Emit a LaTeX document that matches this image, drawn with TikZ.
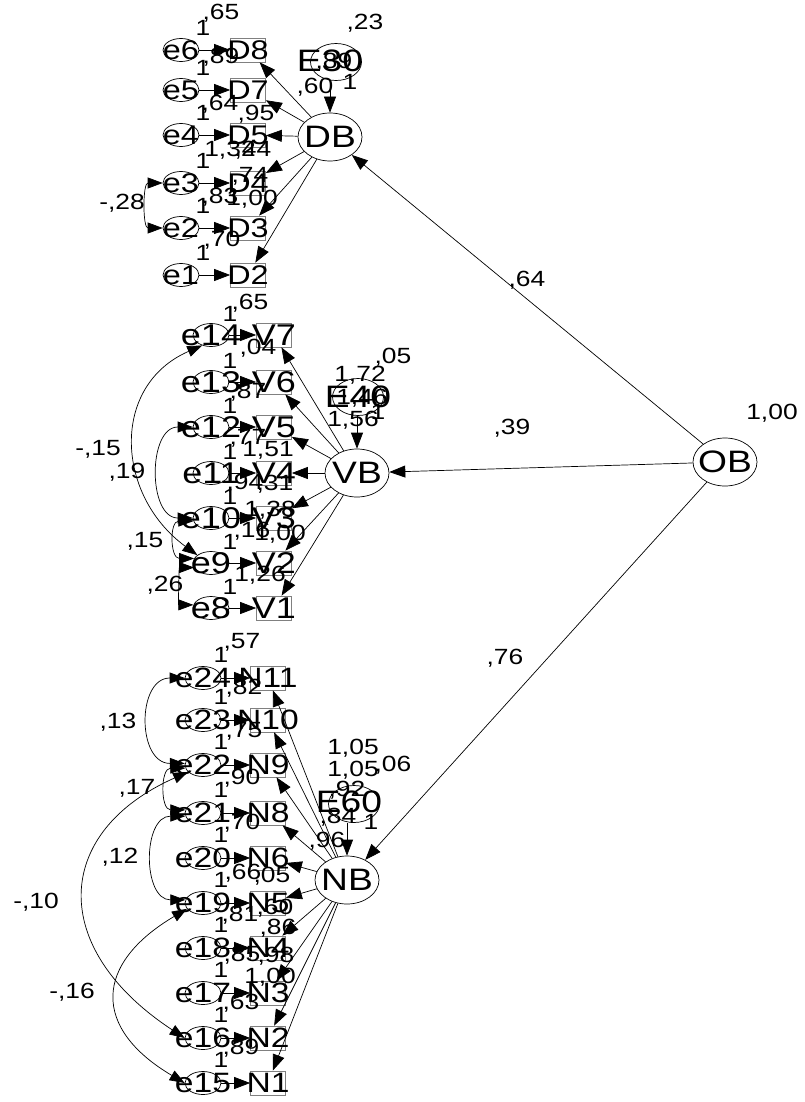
\documentclass[tikz,border=0pt]{standalone}
\usepackage{fontspec}
\newfontfamily\amosfont[FakeStretch=1.2]{Liberation Sans}
\usetikzlibrary{arrows.meta,shapes.geometric}

\tikzset{
 varlbl/.style={font=\amosfont\fontsize{27}{27}\selectfont,inner sep=0pt},
 latlbl/.style={font=\amosfont\fontsize{31}{31}\selectfont,inner sep=0pt},
 coef/.style={font=\amosfont\fontsize{22}{22}\selectfont,inner sep=0pt},
 obsbox/.style={draw=gray,line width=0.7pt,minimum width=35pt,minimum height=24pt,inner sep=0pt,label={[varlbl]center:#1}},
 errell/.style={ellipse,draw,line width=0.7pt,minimum width=36pt,minimum height=23pt,inner sep=0pt,label={[varlbl]center:#1}},
 latell/.style={ellipse,draw,line width=0.7pt,minimum width=64pt,minimum height=48pt,inner sep=0pt,label={[latlbl]center:#1}},
 distell/.style={ellipse,draw,line width=0.7pt,minimum width=51pt,minimum height=37pt,inner sep=0pt},
 reg/.style={-{Triangle[length=16pt,width=12pt]},line width=0.7pt},
 covar/.style={{Triangle[length=15pt,width=11pt]}-{Triangle[length=15pt,width=11pt]},line width=0.7pt}
}

\begin{document}
\begin{tikzpicture}[x=1pt,y=-1pt]
\useasboundingbox (0,0) rectangle (805,1102);

% DB block
\foreach \en/\vn/\y in {e6/D8/50,e5/D7/90,e4/D5/135,e3/D4/183,e2/D3/228,e1/D2/275}{
  \node[errell=\en] (\en) at (181,\y) {};
  \node[obsbox=\vn] (\vn) at (248,\y) {};
  \draw[reg] (\en) -- (\vn);
  \node[coef] (one\en) at (203,\y-22) {1};
}
\node[latell=DB] (DB) at (330,137) {};
\node[distell] (E30) at (336,62) {};
\foreach \vn in {D8,D7,D5,D4,D3,D2} \draw[reg] (DB) -- (\vn);
\draw[reg] (E30.south -| DB.north) -- (DB.north);
\draw[covar] (e3.west) .. controls +(-20,0) and +(-20,0) .. (e2.west);
\node[latlbl] (tE30) at (330,61) {E30};
\node[coef] (vDB) at (334,62) {,89};
\node[coef] (vE30) at (365,23) {,23};
\node[coef] (rDB) at (315,87) {,60};
\node[coef] (wE30) at (350,82) {1};
\node[coef] (ve6) at (221,13) {,65};
\node[coef] (ve5) at (221,57) {,89};
\node[coef] (ve4) at (220,104) {,64};
\node[coef] (rD7) at (256,114) {,95};
\node[coef] (ve3) at (230,150) {1,32};
\node[coef] (rD5) at (253,150) {,44};
\node[coef] (rD4) at (250,176) {,74};
\node[coef] (ve2) at (220,197) {,83};
\node[coef] (rD3) at (252,199) {1,00};
\node[coef] (ve1) at (222,240) {,70};
\node[coef] (c32) at (122,203) {-,28};

% VB block
\begin{scope}[varlbl/.append style={font=\amosfont\fontsize{30}{30}\selectfont}]
\foreach \en/\vn/\y in {e14/V7/335,e13/V6/382,e12/V5/427,e11/V4/473,e10/V3/518,e9/V2/563,e8/V1/608}{
  \node[errell=\en] (\en) at (211,\y) {};
  \node[obsbox=\vn] (\vn) at (274,\y) {};
  \draw[reg] (\en) -- (\vn);
  \node[coef] (one\en) at (230,\y-21) {1};
}
\end{scope}
\node[latell=VB] (VB) at (357,473) {};
\node[distell] (E40) at (358,397) {};
\foreach \vn in {V7,V6,V5,V4,V3,V2,V1} \draw[reg] (VB) -- (\vn);
\draw[reg] (E40.south -| VB.north) -- (VB.north);
\draw[covar] (e14.230) .. controls +(-92,40) and +(-82,-60) .. (e9.150);
\draw[covar] (e12.west) .. controls +(-45,0) and +(-45,0) .. (e10.west);
\draw[covar] (e10.190) .. controls +(-24,0) and +(-24,0) .. (e9.165);
\draw[covar] (e9.195) .. controls +(-15,0) and +(-15,0) .. (e8.170);
\node[latlbl] (tE40) at (358,397) {E40};
\node[coef] (vVB) at (362,398) {1,46};
\node[coef] (vE40) at (393,357) {,05};
\node[coef] (iVB) at (360,375) {1,72};
\node[coef] (rVB) at (353,420) {1,56};
\node[coef] (wE40) at (378,412) {1};
\node[coef] (ve14) at (250,303) {,65};
\node[coef] (ve13) at (258,348) {,04};
\node[coef] (ve12) at (248,392) {,87};
\node[coef] (ve11) at (248,438) {,77};
\node[coef] (rV5) at (268,450) {1,51};
\node[coef] (ve10) at (245,483) {,94};
\node[coef] (rV4) at (275,484) {,31};
\node[coef] (rV3) at (270,510) {1,38};
\node[coef] (ve9) at (252,531) {,16};
\node[coef] (rV2) at (280,534) {1,00};
\node[coef] (ve8) at (260,575) {1,26};
\node[coef] (c149) at (98,449) {-,15};
\node[coef] (c1210) at (127,472) {,19};
\node[coef] (c109) at (145,541) {,15};
\node[coef] (c98) at (165,585) {,26};

% NB block
\begin{scope}[varlbl/.append style={font=\amosfont\fontsize{28}{28}\selectfont}]
\foreach \en/\vn/\y in {e24/N11/678,e23/N10/720,e22/N9/765,e21/N8/813,e20/N6/858,e19/N5/903,e18/N4/948,e17/N3/993,e16/N2/1038,e15/N1/1083}{
  \node[errell=\en] (\en) at (203,\y) {};
  \node[obsbox=\vn] (\vn) at (268,\y) {};
  \draw[reg] (\en) -- (\vn);
  \node[coef] (one\en) at (221,\y-23) {1};
}
\end{scope}
\node[latell=NB,latlbl/.append style={font=\amosfont\fontsize{34}{34}\selectfont}] (NB) at (347,880) {};
\node[distell] (E60) at (354,804) {};
\foreach \vn in {N11,N10,N9,N8,N6,N5,N4,N3,N2,N1} \draw[reg] (NB) -- (\vn);
\draw[reg] (E60.south -| NB.north) -- (NB.north);
\draw[covar] (e24.west) .. controls +(-48,0) and +(-48,0) .. (e22.175);
\draw[covar] (e22.190) .. controls +(-25,0) and +(-25,0) .. (e21.170);
\draw[covar] (e21.190) .. controls +(-43,0) and +(-43,0) .. (e19.170);
\draw[covar] (e22.205) .. controls +(-135,60) and +(-137,-90) .. (e16.west);
\draw[covar] (e19.200) .. controls +(-93,55) and +(-93,-55) .. (e15.west);
\node[latlbl] (tE60) at (349,802) {E60};
\node[coef] (iN11) at (353,748) {1,05};
\node[coef] (iN10) at (353,770) {1,05};
\node[coef] (vE60) at (393,765) {,06};
\node[coef] (vNB) at (347,790) {,92};
\node[coef] (rNB) at (338,817) {,84};
\node[coef] (wE60) at (371,822) {1};
\node[coef] (rN8) at (327,841) {,96};
\node[coef] (ve24) at (242,642) {,57};
\node[coef] (ve23) at (244,688) {,82};
\node[coef] (ve22) at (244,731) {,75};
\node[coef] (ve21) at (242,778) {,90};
\node[coef] (ve20) at (242,823) {,70};
\node[coef] (ve19) at (243,873) {,66};
\node[coef] (rN6) at (272,876) {,05};
\node[coef] (rN5) at (275,908) {,60};
\node[coef] (ve18) at (240,915) {,81};
\node[coef] (rN4) at (278,928) {,86};
\node[coef] (ve17) at (242,955) {,85};
\node[coef] (rN3) at (276,956) {,98};
\node[coef] (iN3) at (270,977) {1,00};
\node[coef] (ve16) at (241,1003) {,63};
\node[coef] (ve15) at (241,1048) {,89};
\node[coef] (c2422) at (118,722) {,13};
\node[coef] (c2221) at (137,788) {,17};
\node[coef] (c2119) at (120,857) {,12};
\node[coef] (c2216) at (36,902) {-,10};
\node[coef] (c1915) at (72,992) {-,16};

% OB
\node[latell=OB] (OB) at (725,462) {};
\draw[reg] (OB) -- (DB);
\draw[reg] (OB) -- (VB);
\draw[reg] (OB) -- (NB);
\node[coef] (vOB) at (772,413) {1,00};
\node[coef] (wDB) at (527,280) {,64};
\node[coef] (wVB) at (512,428) {,39};
\node[coef] (wNB) at (505,658) {,76};
\end{tikzpicture}
\end{document}
